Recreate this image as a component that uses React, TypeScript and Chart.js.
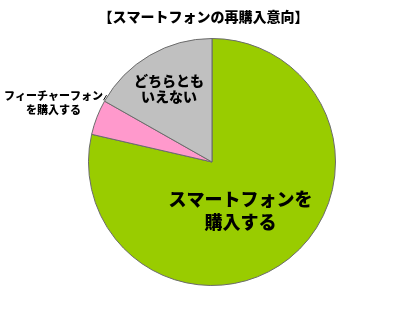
import { useEffect, useRef } from "react";
import { Chart, registerables } from "chart.js";

Chart.register(...registerables);

const TITLE = "【スマートフォンの再購入意向】";
const CATEGORIES = ["スマートフォンを購入する", "フィーチャーフォンを購入する", "どちらともいえない"];
const SHARES = [78.6, 4.6, 16.8];
const COLORS = ["#99CC00", "#FF99CC", "#C0C0C0"];
// Label lines drawn for each slice
const LABEL_LINES = [["スマートフォンを", "購入する"], ["フィーチャーフォン", "を購入する"], ["どちらとも", "いえない"]];

const FONT = '"Noto Sans CJK JP", "Noto Sans", sans-serif';

const labelPlugin = {
  id: "sliceLabels",
  afterDraw(chart: any) {
    const ctx = chart.ctx;
    const meta = chart.getDatasetMeta(0);
    ctx.save();
    ctx.fillStyle = "#000";
    ctx.textAlign = "center";
    ctx.textBaseline = "middle";

    // title
    ctx.font = `900 14px ${FONT}`;
    ctx.fillText(TITLE, chart.width / 2 - 4, 17);

    meta.data.forEach((arc: any, i: number) => {
      const p = arc.getProps(["x", "y", "startAngle", "endAngle", "outerRadius"], true);
      const mid = (p.startAngle + p.endAngle) / 2;
      let cx: number, cy: number, size: number, lh: number;
      if (i === 1) {
        // outside label, anchored at the slice's outer edge
        const ex = p.x + Math.cos(p.endAngle) * p.outerRadius;
        const ey = p.y + Math.sin(p.endAngle) * p.outerRadius;
        cx = ex - 51;
        cy = ey + 2;
        size = 11;
        lh = 14;
        ctx.strokeStyle = "#000";
        ctx.lineWidth = 1;
        ctx.beginPath();
        ctx.moveTo(ex - 1, ey - 1);
        ctx.lineTo(ex + 2, ey - 6);
        ctx.stroke();
      } else {
        const f = i === 0 ? 0.5 : 0.69;
        cx = p.x + Math.cos(mid) * p.outerRadius * f - (i === 0 ? 10 : 0);
        cy = p.y + Math.sin(mid) * p.outerRadius * f;
        size = i === 0 ? 18 : 14;
        lh = i === 0 ? 23 : 16;
      }
      ctx.font = `900 ${size}px ${FONT}`;
      const lines = LABEL_LINES[i];
      lines.forEach((t, k) => {
        ctx.fillText(t, cx, cy + (k - (lines.length - 1) / 2) * lh);
      });
    });
    ctx.restore();
  },
};

export default function App() {
  const ref = useRef<HTMLCanvasElement>(null);
  useEffect(() => {
    const chart = new Chart(ref.current!, {
      type: "pie",
      data: {
        labels: CATEGORIES,
        datasets: [
          {
            data: SHARES,
            backgroundColor: COLORS,
            borderColor: "#6b6b6b",
            borderWidth: 1,
          },
        ],
      },
      options: {
        responsive: false,
        animation: false,
        layout: { padding: { top: 38, bottom: 25, left: 88, right: 79 } },
        plugins: {
          legend: { display: false },
          tooltip: { enabled: false },
          title: { display: false },
        },
      },
      plugins: [labelPlugin],
    });
    return () => chart.destroy();
  }, []);
  return (
    <div style={{ position: "fixed", left: 0, top: 0, width: 415, height: 311, background: "#fff" }}>
      <canvas ref={ref} width={415} height={311} />
    </div>
  );
}
